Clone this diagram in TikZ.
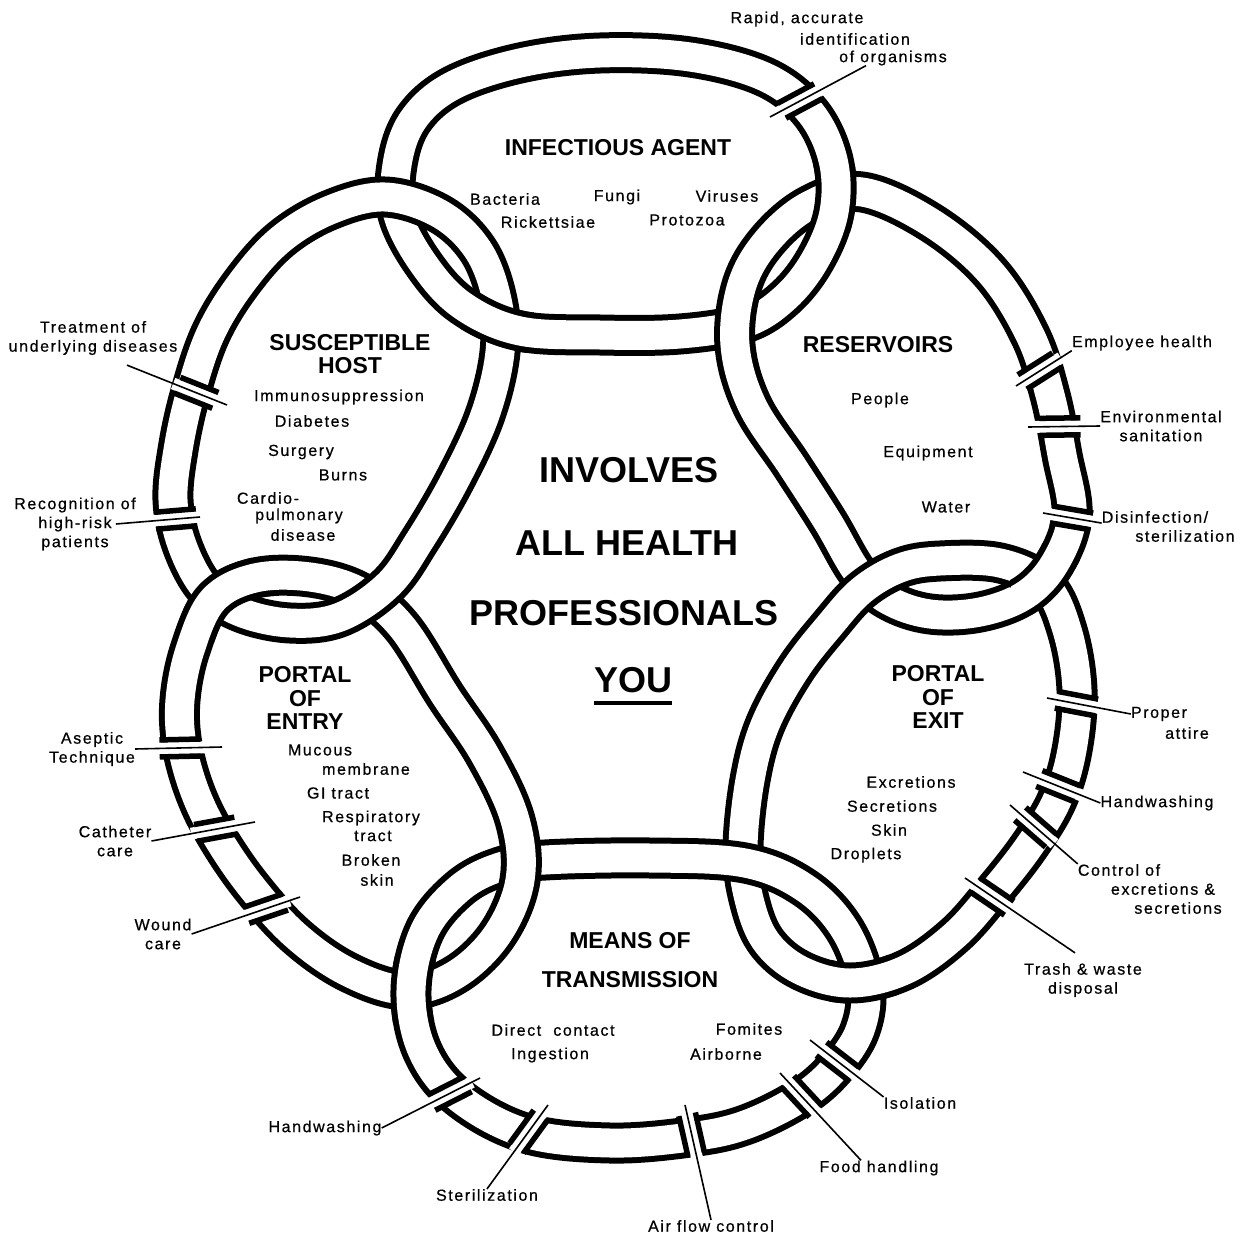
\documentclass[tikz,border=0pt]{standalone}
\usepackage{fontspec}
\setmainfont{Liberation Sans}
\newfontfamily\labfont{Liberation Sans}[LetterSpace=10, FakeBold=0.6]
\usetikzlibrary{decorations.markings}

% centre lines of the six links of the chain
\newcommand\linkIA{plot[smooth cycle, tension=0.6] coordinates {(600,53) (690,57) (765,77) (810,112) (833,160) (834,212) (815,260) (785,298) (745,323) (680,334) (600,335) (520,331) (463,306) (425,266) (398,215) (397,165) (413,120) (452,86) (520,63)}}
\newcommand\linkRes{plot[smooth cycle, tension=0.6] coordinates {(862,192) (930,222) (990,272) (1030,335) (1050,395) (1062,455) (1072,515) (1055,563) (1025,595) (980,612) (930,614) (888,600) (858,573) (828,522) (792,466) (752,405) (735,345) (742,285) (768,240) (810,205)}}
\newcommand\linkExit{plot[smooth cycle, tension=0.6] coordinates {(900,568) (940,561) (1000,563) (1045,585) (1067,630) (1077,690) (1072,750) (1057,800) (1030,845) (995,890) (955,935) (905,970) (850,983) (800,970) (765,940) (748,895) (743,847) (750,780) (765,725) (795,670) (830,625) (862,590)}}
\newcommand\linkMeans{plot[smooth cycle, tension=0.6] coordinates {(545,860) (650,858) (745,863) (805,888) (845,930) (865,985) (860,1030) (835,1068) (800,1098) (745,1125) (690,1137) (610,1143) (525,1133) (458,1097) (422,1050) (411,990) (425,930) (460,888) (500,867)}}
\newcommand\linkEntry{plot[smooth cycle, tension=0.6] coordinates {(182,745) (195,792) (216,835) (250,885) (295,935) (348,972) (405,990) (455,975) (497,935) (520,880) (515,820) (485,755) (445,695) (402,627) (360,592) (310,577) (255,578) (213,600) (190,650) (180,700)}}
\newcommand\linkHost{plot[smooth cycle, tension=0.6] coordinates {(385,197) (440,214) (478,250) (497,300) (500,352) (485,415) (455,480) (420,540) (388,585) (340,617) (290,623) (240,612) (205,588) (182,545) (173,500) (178,450) (190,395) (210,335) (240,285) (280,240) (330,210)}}

\newcommand\thickul[1]{\setbox0\hbox{#1}\rlap{\rule[-12pt]{\wd0}{4pt}}\box0}

\begin{document}
\begin{tikzpicture}[x=1pt, y=-1pt,
    link/.style={draw=black, line width=6pt, double=white, double distance=29pt},
    lab/.style={font=\labfont\fontsize{16}{19}\selectfont, inner sep=0pt, align=center},
    head/.style={font=\bfseries\fontsize{23}{23.5}\selectfont, inner sep=0pt, align=center},
    big/.style={font=\bfseries\fontsize{36}{40}\selectfont, inner sep=0pt},
    pointer/.style={line width=1.6pt},
    cut/.style={pointer, preaction={decorate, decoration={markings,
        mark=at position #1 with {\fill[white] (-25,-6) rectangle (25,6);
          \draw[line width=5.5pt] (-20.5,-8.5) -- (20.5,-8.5) (-20.5,8.5) -- (20.5,8.5);}}}}
]
\useasboundingbox (0,0) rectangle (1242,1236);
\fill[white] (0,0) rectangle (1242,1236);

% the chain
\draw[link] \linkIA;
\draw[link] \linkRes;
\draw[link] \linkExit;
\draw[link] \linkMeans;
\draw[link] \linkEntry;
\draw[link] \linkHost;

% crossings where the earlier link lies on top
\begin{scope}
  \clip (835,197) circle [radius=38pt];
  \begin{scope}[transparency group]
    \draw[link] \linkIA;
  \end{scope}
\end{scope}
\begin{scope}
  \clip (1048,580) circle [radius=38pt];
  \begin{scope}[transparency group]
    \draw[link] \linkRes;
  \end{scope}
\end{scope}
\begin{scope}
  \clip (862,982) circle [radius=38pt];
  \begin{scope}[transparency group]
    \draw[link] \linkExit;
  \end{scope}
\end{scope}
\begin{scope}
  \clip (411,990) circle [radius=38pt];
  \begin{scope}[transparency group]
    \draw[link] \linkMeans;
  \end{scope}
\end{scope}
\begin{scope}
  \clip (228,598) circle [radius=47pt];
  \begin{scope}[transparency group]
    \draw[link] \linkEntry;
  \end{scope}
\end{scope}
\begin{scope}
  \clip (498,326) circle [radius=38pt];
  \begin{scope}[transparency group]
    \draw[link] \linkIA;
  \end{scope}
\end{scope}

% centre
\node[big] (invol) at (629,470) {INVOLVES};
\node[big] (allh) at (627,543) {ALL HEALTH};
\node[big] (prof) at (624,613) {PROFESSIONALS};
\node[big] (you) at (633,686) {\thickul{YOU}};

% infectious agent
\node[head] (agent) at (618,148) {INFECTIOUS AGENT};
\node[lab] (bact) at (505,199) {Bacteria};
\node[lab] (fungi) at (617,197) {Fungi};
\node[lab] (vir) at (727,196) {Viruses};
\node[lab] (rick) at (548,222) {Rickettsiae};
\node[lab] (proto) at (687,220) {Protozoa};

% reservoirs
\node[head] (res) at (878,345) {RESERVOIRS};
\node[lab] (people) at (880,400) {People};
\node[lab] (equip) at (928,453) {Equipment};
\node[lab] (water) at (946,507) {Water};

% portal of exit
\node[head] (exit) at (938,697) {PORTAL\\OF\\EXIT};
\node[lab] (excr) at (911,782) {Excretions};
\node[lab] (secr) at (892,806) {Secretions};
\node[lab] (skin) at (889,830) {Skin};
\node[lab] (drop) at (866,855) {Droplets};

% means of transmission
\node[head, font=\bfseries\fontsize{23}{39}\selectfont] (means) at (630,960) {MEANS OF\\TRANSMISSION};
\node[lab] (direct) at (553,1030) {Direct\ \ contact};
\node[lab] (inges) at (550,1055) {Ingestion};
\node[lab] (fomi) at (749,1029) {Fomites};
\node[lab] (airb) at (726,1054) {Airborne};

% portal of entry
\node[head] (entry) at (305,698) {PORTAL\\OF\\ENTRY};
\node[lab] (mucous) at (320,750) {Mucous};
\node[lab] (membr) at (366,769) {membrane};
\node[lab] (gitract) at (338,793) {GI tract};
\node[lab] (resp) at (371,818) {Respiratory};
\node[lab] (rtract) at (373,836) {tract};
\node[lab] (broken) at (371,860) {Broken};
\node[lab] (bskin) at (377,880) {skin};

% susceptible host
\node[head] (host) at (350,354) {SUSCEPTIBLE\\HOST};
\node[lab] (immuno) at (339,397) {Immunosuppression};
\node[lab] (diab) at (312,421) {Diabetes};
\node[lab] (surg) at (301,452) {Surgery};
\node[lab] (burns) at (343,475) {Burns};
\node[lab] (cardio) at (268,498) {Cardio-};
\node[lab] (pulm) at (299,516) {pulmonary};
\node[lab] (disease) at (303,535) {disease};

% measures outside the chain
\node[lab] (rapidA) at (797,19) {Rapid, accurate};
\node[lab] (rapidB) at (855,39) {identification};
\node[lab] (rapidC) at (893,58) {of organisms};
\node[lab] (emp) at (1142,343) {Employee health};
\node[lab] (env) at (1161,426) {Environmental\\sanitation};
\node[lab] (disA) at (1155,517) {Disinfection/};
\node[lab] (disB) at (1185,536) {sterilization};
\node[lab] (proA) at (1159,714) {Proper};
\node[lab] (proB) at (1187,733) {attire};
\node[lab] (hwR) at (1157,803) {Handwashing};
\node[lab] (conA) at (1119,870) {Control of};
\node[lab] (conB) at (1163,889) {excretions \&};
\node[lab] (conC) at (1178,908) {secretions};
\node[lab] (trash) at (1083,980) {Trash \& waste\\disposal};
\node[lab] (iso) at (920,1103) {Isolation};
\node[lab] (food) at (879,1168) {Food handling};
\node[lab] (airf) at (711,1226) {Air flow control};
\node[lab] (ster) at (487,1195) {Sterilization};
\node[lab] (hwL) at (325,1128) {Handwashing};
\node[lab] (wound) at (163,934) {Wound\\care};
\node[lab] (cath) at (115,841) {Catheter\\care};
\node[lab] (asep) at (92,749) {Aseptic\\Technique};
\node[lab] (recog) at (75,524) {Recognition of\\high-risk\\patients};
\node[lab] (treat) at (93,338) {Treatment of\\underlying diseases};

% inner ends of the pointers
\coordinate (tRapid) at (770,117);
\coordinate (tEmp) at (1016,386);
\coordinate (tEnv) at (1028,427);
\coordinate (tDis) at (1043,513);
\coordinate (tPro) at (1047,698);
\coordinate (tHwR) at (1023,772);
\coordinate (tCon) at (1010,805);
\coordinate (tTrash) at (965,878);
\coordinate (tIso) at (810,1040);
\coordinate (tFood) at (780,1073);
\coordinate (tAir) at (685,1105);
\coordinate (tSter) at (548,1105);
\coordinate (tHwL) at (480,1078);
\coordinate (tWound) at (300,897);
\coordinate (tCath) at (255,822);
\coordinate (tAsep) at (222,747);
\coordinate (tRecog) at (200,517);
\coordinate (tTreat) at (227,405);

% cuts in the chain
\draw[cut=34pt] (tRapid) -- ([xshift=-27pt]rapidC.south);
\draw[cut=28pt] (tEmp) -- (emp.south west);
\draw[cut=32pt] (tEnv) -- (env.west);
\draw[cut=29pt] (tDis) -- (disA.south west);
\draw[cut=30pt] (tPro) -- (proA.west);
\draw[cut=38pt] (tHwR) -- (hwR.west);
\draw[cut=34pt] (tCon) -- (conA.north west);
\draw[cut=33pt] (tTrash) -- ([xshift=-8pt,yshift=10pt]trash.north);
\draw[cut=35pt] (tIso) -- (iso.north west);
\draw[cut=32pt] (tFood) -- ([xshift=-18pt]food.north);
\draw[cut=30pt] (tAir) -- (airf.north);
\draw[cut=33pt] (tSter) -- (ster.north);
\draw[cut=34pt] (tHwL) -- (hwL.east);
\draw[cut=36pt] (tWound) -- (wound.east);
\draw[cut=40pt] (tCath) -- (cath.east);
\draw[cut=42pt] (tAsep) -- (asep.east);
\draw[cut=24pt] (tRecog) -- ([xshift=-20pt]recog.east);
\draw[cut=33pt] (tTreat) -- ([xshift=34pt,yshift=-10pt]treat.south);

\end{tikzpicture}
\end{document}
